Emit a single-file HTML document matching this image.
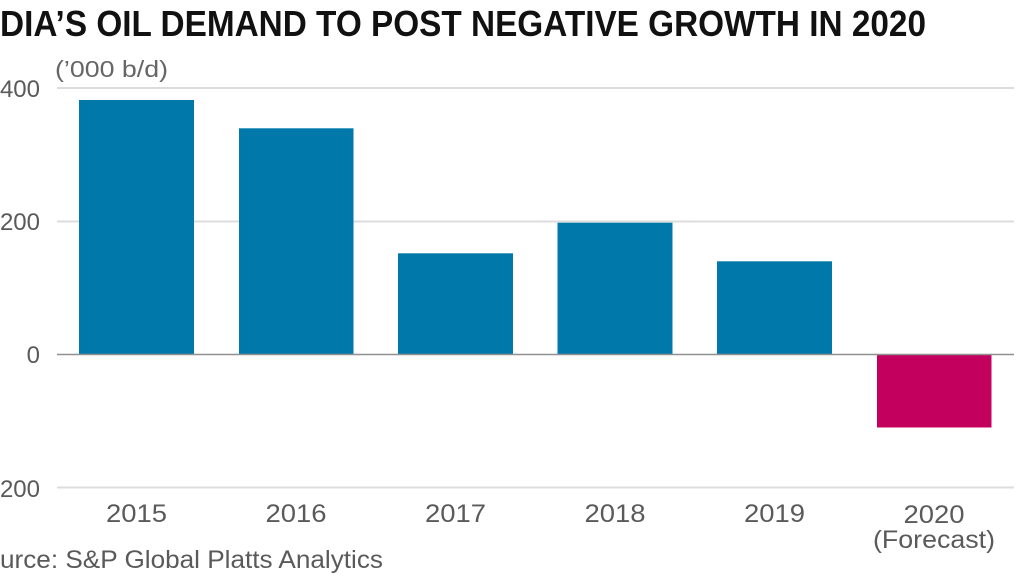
<!DOCTYPE html>
<html><head><meta charset="utf-8"><style>
html,body{margin:0;padding:0;background:#fff;}
svg{display:block;}
text{font-family:"Liberation Sans",sans-serif;}
</style></head><body>
<svg width="1024" height="575" viewBox="0 0 1024 575" xmlns="http://www.w3.org/2000/svg">
<rect width="1024" height="575" fill="#fff"/>
<text x="0" y="36" font-size="36" font-weight="bold" fill="#111" textLength="926" lengthAdjust="spacingAndGlyphs">DIA’S OIL DEMAND TO POST NEGATIVE GROWTH IN 2020</text>
<text x="55" y="77" font-size="23" fill="#666" textLength="113" lengthAdjust="spacingAndGlyphs">(’000 b/d)</text>
<g stroke="#dcdcdc" stroke-width="2">
<line x1="57" y1="88" x2="1014" y2="88"/>
<line x1="57" y1="221.5" x2="1014" y2="221.5"/>
<line x1="57" y1="487.5" x2="1014" y2="487.5"/>
</g>
<g fill="#5a5a5a" font-size="24" text-anchor="end">
<text x="40" y="97">400</text>
<text x="40" y="230">200</text>
<text x="40" y="363">0</text>
<text x="40" y="497">-200</text>
</g>
<g fill="#0079aa">
<rect x="79" y="100" width="115" height="254.5"/>
<rect x="239" y="128.3" width="114.5" height="226.2"/>
<rect x="398" y="253.3" width="115" height="101.2"/>
<rect x="557.5" y="222.7" width="115" height="131.8"/>
<rect x="717" y="261.3" width="115" height="93.2"/>
</g>
<rect x="877" y="354.5" width="114.5" height="73" fill="#c4005f"/>
<line x1="57" y1="354.5" x2="1014" y2="354.5" stroke="#909090" stroke-width="1.6"/>
<g fill="#5a5a5a" font-size="25" text-anchor="middle">
<text x="136.5" y="522" textLength="61" lengthAdjust="spacingAndGlyphs">2015</text>
<text x="296" y="522" textLength="61" lengthAdjust="spacingAndGlyphs">2016</text>
<text x="455.5" y="522" textLength="61" lengthAdjust="spacingAndGlyphs">2017</text>
<text x="615" y="522" textLength="61" lengthAdjust="spacingAndGlyphs">2018</text>
<text x="774.5" y="522" textLength="61" lengthAdjust="spacingAndGlyphs">2019</text>
<text x="934" y="523" textLength="61" lengthAdjust="spacingAndGlyphs">2020</text>
<text x="934" y="548" textLength="122" lengthAdjust="spacingAndGlyphs">(Forecast)</text>
</g>
<text x="0" y="568" font-size="25" fill="#5a5a5a" textLength="383" lengthAdjust="spacingAndGlyphs">urce: S&amp;P Global Platts Analytics</text>
</svg>
</body></html>
